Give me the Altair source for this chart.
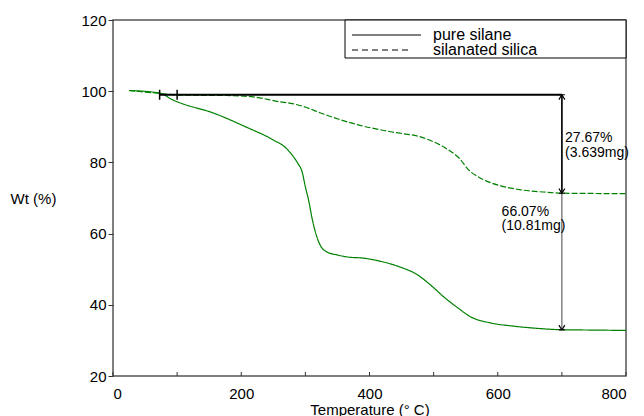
import altair as alt
import pandas as pd

# ---- data ----
T_silane = [25, 72, 94, 105, 156, 208, 250, 270, 277, 288, 295, 300, 305, 311, 316, 323, 334, 350, 367, 391, 422, 448, 475, 495, 516, 538, 558, 589, 625, 660, 700, 750, 800]
W_silane = [100.2, 99.5, 97.5, 96.7, 93.9, 89.9, 86.3, 84.0, 82.6, 79.8, 77.3, 73.1, 69.4, 63.8, 60.2, 56.8, 54.8, 54.0, 53.4, 53.1, 52.0, 50.6, 48.4, 45.6, 42.2, 39.1, 36.6, 34.9, 34.0, 33.4, 33.0, 32.9, 32.8]

T_silica = [25, 72, 105, 177, 219, 261, 277, 297, 328, 381, 433, 484, 516, 538, 558, 569, 589, 605, 636, 678, 700, 730, 800]
W_silica = [100.2, 99.4, 98.9, 98.8, 98.4, 97.0, 96.6, 95.7, 93.6, 90.6, 88.6, 86.9, 84.3, 81.5, 77.3, 76.0, 74.3, 73.4, 72.3, 71.6, 71.35, 71.3, 71.2]

series_names = ["pure silane", "silanated silica"]

onset_T = [72.7, 100]
level_top = 99.0
level_silica = 71.33
level_silane = 32.93
mark_T = 700

ann_labels = ["27.67%", "(3.639mg)", "66.07%", "(10.81mg)"]
ann_T = [705, 705, 606, 606]
ann_W = [86.8, 82.6, 66.0, 62.1]

x_ticks = [0, 100, 200, 300, 400, 500, 600, 700, 800]
x_labels = [0, 200, 400, 600, 800]
y_ticks = [20, 30, 40, 50, 60, 70, 80, 90, 100, 110, 120]

GREEN = "#008000"
FONT = "Liberation Sans"
W, H = 513, 356

curves = pd.concat([
    pd.DataFrame({"T": T_silane, "W": W_silane, "s": series_names[0]}),
    pd.DataFrame({"T": T_silica, "W": W_silica, "s": series_names[1]}),
])

xs = alt.Scale(domain=[0, 800], nice=False, zero=False)
ys = alt.Scale(domain=[20, 120], nice=False, zero=False)

xaxis = alt.Axis(values=x_labels, title="Temperature (° C)", tickSize=0, labelPadding=10,
                 labelFontSize=15, titleFontSize=15, grid=False, domain=False,
                 titleY=33, titleBaseline="middle", labelColor="black", titleColor="black",
                 titleFontWeight="normal", labelFont=FONT, titleFont=FONT)
yaxis = alt.Axis(values=y_ticks, title="Wt (%)", tickSize=5, labelPadding=2,
                 labelExpr="datum.value % 20 == 0 ? datum.label : ''",
                 labelFontSize=15, titleFontSize=15, grid=False, domain=False,
                 titleAngle=0, titleX=-80, titleY=H / 2, titleAlign="center",
                 titleBaseline="middle", tickColor="#333", labelColor="black",
                 titleColor="black", titleFontWeight="normal", labelFont=FONT, titleFont=FONT)

lines = alt.Chart(curves).mark_line(color=GREEN, strokeWidth=1.2, interpolate="monotone").encode(
    x=alt.X("T:Q", scale=xs, axis=xaxis),
    y=alt.Y("W:Q", scale=ys, axis=yaxis),
    strokeDash=alt.StrokeDash("s:N", scale=alt.Scale(domain=series_names, range=[[1, 0], [6, 2]]), legend=None),
    detail="s:N",
)

# inward x ticks
xt = alt.Chart(pd.DataFrame({"t": x_ticks})).mark_rule(color="#333", strokeWidth=1).encode(
    x=alt.X("t:Q", scale=xs), y=alt.value(H), y2=alt.value(H - 4)
)

# horizontal reference line
hline = alt.Chart(pd.DataFrame({"a": [onset_T[0]], "b": [mark_T], "w": [level_top]})).mark_rule(
    color="black", strokeWidth=2).encode(x=alt.X("a:Q", scale=xs), x2="b:Q", y=alt.Y("w:Q", scale=ys))

onset = alt.Chart(pd.DataFrame({"t": onset_T, "w": [level_top] * len(onset_T)})).mark_point(
    shape="M0,-1L0,1", size=100, stroke="black", strokeWidth=1.5, filled=False, opacity=1).encode(
    x=alt.X("t:Q", scale=xs), y=alt.Y("w:Q", scale=ys))

vlong = alt.Chart(pd.DataFrame({"t": [mark_T], "a": [level_top], "b": [level_silane]})).mark_rule(
    color="#444", strokeWidth=1).encode(x=alt.X("t:Q", scale=xs), y=alt.Y("a:Q", scale=ys), y2="b:Q")
vshort = alt.Chart(pd.DataFrame({"t": [mark_T], "a": [level_top], "b": [level_silica]})).mark_rule(
    color="black", strokeWidth=1.5).encode(x=alt.X("t:Q", scale=xs), y=alt.Y("a:Q", scale=ys), y2="b:Q")

up_arrow = alt.Chart(pd.DataFrame({"t": [mark_T], "w": [level_top]})).mark_point(
    shape="M-1,1.6L0,0L1,1.6M-1,0L1,0", size=36, stroke="black", strokeWidth=1.2, filled=False, opacity=1).encode(
    x=alt.X("t:Q", scale=xs), y=alt.Y("w:Q", scale=ys))
down_arrow = alt.Chart(pd.DataFrame({"t": [mark_T, mark_T], "w": [level_silica, level_silane]})).mark_point(
    shape="M-1,-1.6L0,0L1,-1.6M-1,0L1,0", size=36, stroke="black", strokeWidth=1.2, filled=False, opacity=1).encode(
    x=alt.X("t:Q", scale=xs), y=alt.Y("w:Q", scale=ys))

ann = alt.Chart(pd.DataFrame({"t": ann_T, "w": ann_W, "l": ann_labels})).mark_text(
    align="left", baseline="middle", fontSize=14, font=FONT, color="black").encode(
    x=alt.X("t:Q", scale=xs), y=alt.Y("w:Q", scale=ys), text="l:N")

# legend box (drawn by hand, like the original)
lbox = alt.Chart(pd.DataFrame({"k": [0]})).mark_rect(fill="white", stroke="black", strokeWidth=1).encode(
    x=alt.value(232), x2=alt.value(W), y=alt.value(0), y2=alt.value(38))
lsolid = alt.Chart(pd.DataFrame({"k": [0]})).mark_rule(color="black", strokeWidth=1).encode(
    x=alt.value(239), x2=alt.value(308), y=alt.value(15))
ldash = alt.Chart(pd.DataFrame({"k": [0]})).mark_rule(color="black", strokeWidth=1, strokeDash=[6, 4]).encode(
    x=alt.value(239), x2=alt.value(295), y=alt.value(30))
ltext1 = alt.Chart(pd.DataFrame({"k": [0]})).mark_text(align="left", baseline="middle", fontSize=16, font=FONT,
                                                      color="black").encode(
    x=alt.value(320), y=alt.value(15), text=alt.value(series_names[0]))
ltext2 = alt.Chart(pd.DataFrame({"k": [0]})).mark_text(align="left", baseline="middle", fontSize=16, font=FONT,
                                                      color="black").encode(
    x=alt.value(320), y=alt.value(30), text=alt.value(series_names[1]))

chart = alt.layer(lines, xt, hline, onset, vlong, vshort, up_arrow, down_arrow, ann,
                  lbox, lsolid, ldash, ltext1, ltext2).properties(
    width=W, height=H,
    autosize=alt.AutoSizeParams(type="none"),
    padding={"left": 105, "top": 12, "right": 10, "bottom": 40},
    background="white",
).configure_view(stroke="#555", strokeWidth=1.5).configure_axis(labelFont=FONT, titleFont=FONT)

chart.save("out.html", embed_options={"renderer": "svg", "actions": False})
